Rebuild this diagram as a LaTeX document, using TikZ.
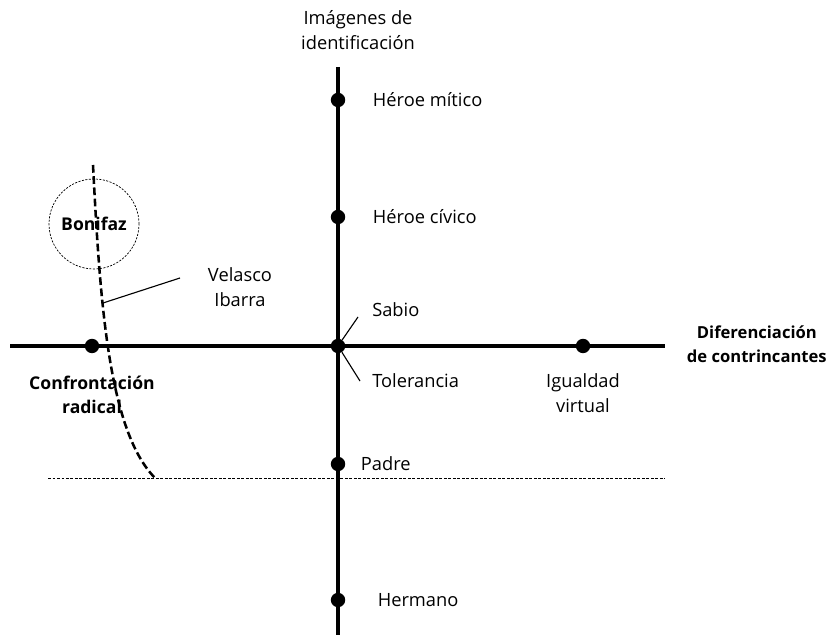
\documentclass[tikz,border=0pt]{standalone}
\usepackage{fontspec}
\setmainfont{Open Sans}
\usetikzlibrary{positioning}

\begin{document}
\begin{tikzpicture}[
  x=0.025cm, y=-0.025cm,
  axis/.style={line width=3pt},
  pt/.style={circle, fill=black, inner sep=0pt, minimum size=0.36cm},
  lbl/.style={inner sep=0pt, align=center, font=\fontsize{13}{17.5}\selectfont},
  blbl/.style={lbl, font=\fontsize{12.5}{17.5}\selectfont\bfseries},
  guide/.style={line width=0.6pt, dash pattern=on 2pt off 1.2pt},
  curve/.style={line width=1.8pt, dash pattern=on 5.5pt off 2.5pt},
  pointer/.style={line width=0.8pt}
]
  \useasboundingbox (0,0) rectangle (829,635);

  % Axes
  \coordinate (ytop) at (338,67);
  \coordinate (ybot) at (338,635);
  \coordinate (xleft) at (10,346);
  \coordinate (xright) at (665,346);
  \draw[axis] (ytop) -- (ybot);
  \draw[axis, line width=3.5pt] (xleft) -- (xright);

  % Dotted guide line
  \coordinate (gleft) at (48,478);
  \coordinate (gright) at (665,478);
  \draw[guide] (gleft) -- (gright);

  % Points on the vertical axis
  \node[pt] (mitico) at (338,100) {};
  \node[pt] (civico) at (338,217) {};
  \node[pt] (origin) at (338,346) {};
  \node[pt] (padre) at (338,464) {};
  \node[pt] (hermano) at (338,600) {};

  % Points on the horizontal axis
  \node[pt] (confr) at (92,346) {};
  \node[pt] (igual) at (583,346) {};

  % Axis titles
  \node[lbl] (ytitle) at (358,30) {Imágenes de\\identificación};
  \node[blbl, font=\fontsize{11.8}{17}\selectfont\bfseries, anchor=east]
        (xtitle) at (827,344) {Diferenciación\\de contrincantes};

  % Labels
  \node[lbl, right=0.68cm of mitico] (lmitico) {Héroe mítico};
  \node[lbl, right=0.68cm of civico] (lcivico) {Héroe cívico};
  \node[lbl, right=0.38cm of padre] (lpadre) {Padre};
  \node[lbl, right=0.8cm of hermano] (lhermano) {Hermano};
  \node[lbl, anchor=west] (lsabio) at (372,310) {Sabio};
  \node[lbl, anchor=west] (ltoler) at (372,381) {Tolerancia};
  \node[blbl, below=0.55cm of confr] (lconfr) {Confrontación\\radical};
  \node[lbl, below=0.5cm of igual] (ligual) {Igualdad\\virtual};

  \coordinate (sabiotip) at (358,317);
  \coordinate (tolertip) at (360,381);
  \draw[pointer] (origin) -- (sabiotip);
  \draw[pointer] (origin) -- (tolertip);

  % Bonifaz and the dashed curve
  \node[draw, circle, minimum size=2.25cm, inner sep=0pt, line width=0.5pt,
        dash pattern=on 1.5pt off 1pt, font=\fontsize{12.5}{17}\selectfont\bfseries]
        (bonifaz) at (94,224) {Bonifaz};
  \coordinate (ctop) at (93,165);
  \coordinate (cend) at (155,478);
  \draw[curve] (ctop) .. controls (100,300) and (108,430) .. (cend);

  \node[lbl] (velasco) at (240,287) {Velasco\\Ibarra};
  \coordinate (vtip) at (103,303);
  \coordinate (vend) at (180,278);
  \draw[pointer] (vtip) -- (vend);
\end{tikzpicture}
\end{document}
